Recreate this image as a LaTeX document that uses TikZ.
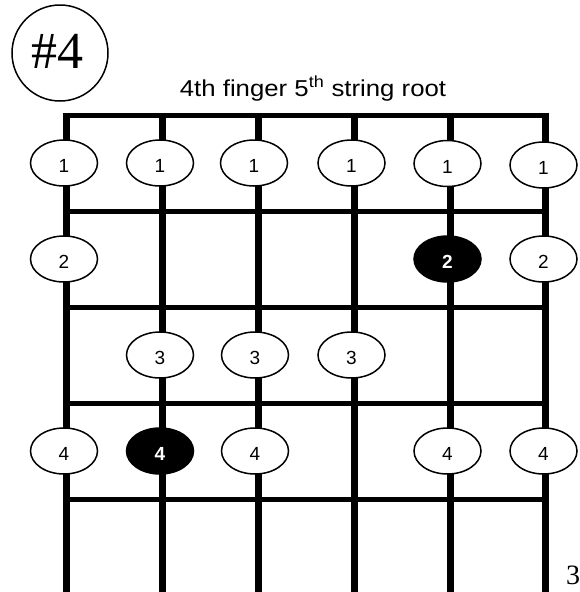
\documentclass[tikz,border=0pt]{standalone}
\usepackage{fontspec}
\setmainfont{Liberation Serif}
\newfontfamily\arialfont{Liberation Sans}
\newfontfamily\timesfont{Liberation Serif}
\tikzset{
  daydan/.style={line width=7pt, black},
  phim/.style={line width=5pt, black},
  notnhac/.style={ellipse, draw, line width=1.5pt, fill=white, minimum width=67pt, minimum height=46pt, inner sep=0pt, text height=19pt, font=\arialfont\fontsize{19}{19}\selectfont},
  notgoc/.style={notnhac, fill=black, text=white, font=\arialfont\bfseries\fontsize{19}{19}\selectfont}
}
\usetikzlibrary{shapes.geometric}
\begin{document}
\begin{tikzpicture}[x=1pt, y=-1pt]
    % 1. Khung hình
    \useasboundingbox (0, 0) rectangle (579, 592);

    % 2. Số thứ tự trong vòng tròn
    \draw[line width=1.5pt] (60, 53) circle (48);
    \node[font=\timesfont\fontsize{52}{52}\selectfont] (so) at (57, 51) {\#4};

    % 3. Tiêu đề
    \node[font=\arialfont\fontsize{23}{23}\selectfont, xscale=1.12] (tieude) at (313, 89)
        {4th finger 5\textsuperscript{th} string root};

    % 4. Dây đàn (dọc) và phím đàn (ngang)
    \foreach \x in {66.5, 162.5, 258, 354, 450, 545.5}
        \draw[daydan] (\x, 112.5) -- (\x, 592);
    \draw[phim] (63, 115) -- (549, 115);
    \foreach \y in {211, 307, 403, 499}
        \draw[phim] (66.5, \y) -- (545.5, \y);

    % 5. Hàng phím 1
    \node[notnhac] (a1) at (64, 163) {1};
    \node[notnhac] (a2) at (160, 163) {1};
    \node[notnhac] (a3) at (254, 163) {1};
    \node[notnhac] (a4) at (351.5, 163) {1};
    \node[notnhac] (a5) at (447.5, 163.5) {1};
    \node[notnhac] (a6) at (543.5, 165) {1};

    % 6. Hàng phím 2
    \node[notnhac] (b1) at (64, 259) {2};
    \node[notgoc] (b5) at (447.5, 259) {2};
    \node[notnhac] (b6) at (543.5, 259) {2};

    % 7. Hàng phím 3
    \node[notnhac] (c2) at (160, 355) {3};
    \node[notnhac] (c3) at (255, 355) {3};
    \node[notnhac] (c4) at (351.5, 355) {3};

    % 8. Hàng phím 4
    \node[notnhac] (d1) at (64, 451) {4};
    \node[notgoc] (d2) at (160, 451) {4};
    \node[notnhac] (d3) at (255, 451) {4};
    \node[notnhac] (d5) at (447.5, 451) {4};
    \node[notnhac] (d6) at (543.5, 451) {4};

    % 9. Số trang
    \node[anchor=west, inner sep=0pt, font=\timesfont\fontsize{28}{28}\selectfont] (trang) at (566, 575) {3};
\end{tikzpicture}
\end{document}
